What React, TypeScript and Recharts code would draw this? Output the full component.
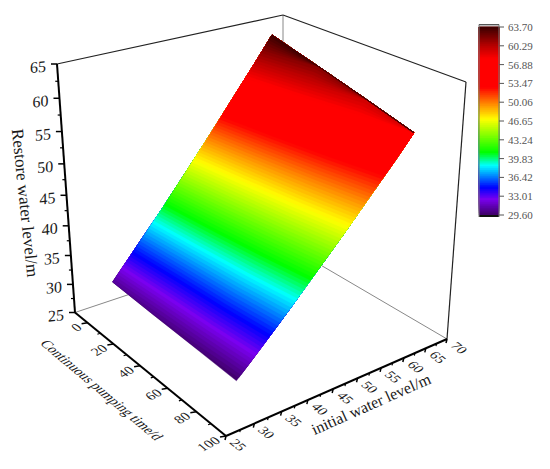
import React from "react";
import { ScatterChart, Scatter, XAxis, YAxis } from "recharts";

const WIDTH = 550;
const HEIGHT = 469;

// ---------- data ----------
const timeSamples = [0, 30, 60, 88];
const levelSamples = [30, 35, 40, 45, 50, 55, 60, 64];
const restoreAtTime0 = [30.6, 35.5, 40.3, 45.2, 50.1, 55.0, 59.8, 63.7];
const restoreAtTime30 = [30.2, 34.8, 39.5, 44.1, 48.7, 53.4, 58.0, 61.7];
const restoreAtTime60 = [29.9, 34.3, 38.7, 43.0, 47.4, 51.8, 56.2, 59.7];
const restoreAtTime88 = [29.6, 33.7, 37.8, 42.0, 46.1, 50.3, 54.4, 57.8];
const restoreRows = [restoreAtTime0, restoreAtTime30, restoreAtTime60, restoreAtTime88];

const timeTicks = [0, 20, 40, 60, 80, 100];
const timeMinorTicks = [10, 30, 50, 70, 90];
const levelTicks = [25, 30, 35, 40, 45, 50, 55, 60, 65, 70];
const levelMinorTicks = [27.5, 32.5, 37.5, 42.5, 47.5, 52.5, 57.5, 62.5, 67.5];
const restoreTicks = [25, 30, 35, 40, 45, 50, 55, 60, 65];
const restoreMinorTicks = [27.5, 32.5, 37.5, 42.5, 47.5, 52.5, 57.5, 62.5];
const colorbarLabels = ["63.70", "60.29", "56.88", "53.47", "50.06", "46.65", "43.24", "39.83", "36.42", "33.01", "29.60"];
const colorStopValues = [29.6, 32.5, 34.6, 38.6, 41, 47, 50, 52.8, 58, 60.3, 63.7];
const colorStopHex = ["#3f0066", "#7a00f0", "#0000ff", "#00ffff", "#00ff00", "#ffff00", "#ff8000", "#ff0000", "#ff0000", "#b80000", "#3c0000"];

// ---------- 3D box ----------
const T_RANGE = [-10, 100];
const L_RANGE = [25, 70];
const Z_RANGE = [25, 65];
const WARP = { t: 1.1, l: 0.85, z: 1.12 };
const C: Record<string, number[]> = {
  "000": [75, 312.5],
  "100": [226, 436],
  "010": [283, 243],
  "110": [447, 339],
  "001": [57, 64],
  "101": [228, 155],
  "011": [283, 15],
  "111": [466, 82],
};
type Pt = { x: number; y: number };

const warp = (s: number, r: number) => s / (s + r * (1 - s));
function project(t: number, l: number, z: number): Pt {
  const a = warp((t - T_RANGE[0]) / (T_RANGE[1] - T_RANGE[0]), WARP.t);
  const b = warp((l - L_RANGE[0]) / (L_RANGE[1] - L_RANGE[0]), WARP.l);
  const c = warp((z - Z_RANGE[0]) / (Z_RANGE[1] - Z_RANGE[0]), WARP.z);
  const out = [0, 0];
  for (const i of [0, 1]) for (const j of [0, 1]) for (const k of [0, 1]) {
    const w = (i ? a : 1 - a) * (j ? b : 1 - b) * (k ? c : 1 - c);
    const p = C[`${i}${j}${k}`];
    out[0] += w * p[0];
    out[1] += w * p[1];
  }
  return { x: out[0], y: out[1] };
}

// ---------- colours ----------
function hexToRgb(h: string) {
  return [1, 3, 5].map((i) => parseInt(h.slice(i, i + 2), 16));
}
function colorFor(v: number) {
  let i = 0;
  while (i < colorStopValues.length - 2 && v > colorStopValues[i + 1]) i++;
  const f = Math.min(1, Math.max(0, (v - colorStopValues[i]) / (colorStopValues[i + 1] - colorStopValues[i])));
  const a = hexToRgb(colorStopHex[i]);
  const b = hexToRgb(colorStopHex[i + 1]);
  return `rgb(${a.map((x, n) => Math.round(x + (b[n] - x) * f)).join(",")})`;
}

const LEVEL_COUNT = 100;
const MIN_V = 29.6;
const MAX_V = 63.7;
const contourLevels = Array.from({ length: LEVEL_COUNT }, (_, i) => MIN_V + ((MAX_V - MIN_V) * i) / LEVEL_COUNT);

// region of the surface whose value is above a level
function crossing(row: number[], v: number) {
  if (v <= row[0]) return levelSamples[0];
  for (let i = 0; i < row.length - 1; i++) {
    if (v <= row[i + 1]) {
      const f = (v - row[i]) / (row[i + 1] - row[i]);
      return levelSamples[i] + f * (levelSamples[i + 1] - levelSamples[i]);
    }
  }
  return levelSamples[levelSamples.length - 1];
}
function zAt(row: number[], l: number) {
  for (let i = 0; i < row.length - 1; i++) {
    if (l <= levelSamples[i + 1]) {
      const f = (l - levelSamples[i]) / (levelSamples[i + 1] - levelSamples[i]);
      return row[i] + f * (row[i + 1] - row[i]);
    }
  }
  return row[row.length - 1];
}
function contourPolygon(v: number): Pt[] {
  const last = timeSamples.length - 1;
  const lastL = levelSamples.length - 1;
  const iso = timeSamples.map((t, n) => {
    const l = crossing(restoreRows[n], v);
    return project(t, l, zAt(restoreRows[n], l));
  });
  const up: Pt[] = [];
  levelSamples.forEach((l, j) => {
    if (l > crossing(restoreRows[last], v)) up.push(project(timeSamples[last], l, restoreRows[last][j]));
  });
  const back: Pt[] = [];
  for (let n = last - 1; n >= 0; n--) back.push(project(timeSamples[n], levelSamples[lastL], restoreRows[n][lastL]));
  const down: Pt[] = [];
  for (let j = lastL - 1; j >= 0; j--) {
    if (levelSamples[j] > crossing(restoreRows[0], v)) down.push(project(timeSamples[0], levelSamples[j], restoreRows[0][j]));
  }
  return [...iso, ...up, ...back, ...down];
}

// ---------- colour bar ----------
const BAR = { left: 479, right: 499, top: 24.5, bottom: 217, topValueY: 27, bottomValueY: 215 };
const barY = (v: number) => BAR.bottomValueY - ((v - MIN_V) / (MAX_V - MIN_V)) * (BAR.bottomValueY - BAR.topValueY);
const barRegion = (v: number): Pt[] => [
  { x: BAR.left, y: barY(v) },
  { x: BAR.right, y: barY(v) },
  { x: BAR.right, y: BAR.topValueY },
  { x: BAR.left, y: BAR.topValueY },
];

// ---------- shapes ----------
const noPoint = () => <g />;
const fillPolygon = (fill: string) => (p: any) => (
  <polygon points={p.points.map((q: any) => `${q.x},${q.y}`).join(" ")} fill={fill} stroke={fill} strokeWidth={0.4} />
);
const tickMark = (dx: number, dy: number, width: number, stroke = "#000") => (p: any) => (
  <line x1={p.cx} y1={p.cy} x2={p.cx + dx} y2={p.cy + dy} stroke={stroke} strokeWidth={width} />
);
const SERIF = "'Liberation Serif', serif";
const labelShape = (opts: { dx: number; dy: number; rotate: number; skew: number; size: number; sy?: number; color?: string; anchor?: string }) => (p: any) => (
  <text
    transform={`translate(${p.cx + opts.dx},${p.cy + opts.dy}) rotate(${opts.rotate}) skewX(${opts.skew}) scale(1,${opts.sy ?? 1})`}
    textAnchor={(opts.anchor ?? "middle") as any}
    dominantBaseline="central"
    fontFamily={SERIF}
    fontSize={opts.size}
    fill={opts.color ?? "#1a1a1a"}
  >
    {p.payload.label}
  </text>
);
const line = (a: Pt, b: Pt) => [a, b];
const edge = (key: string, pts: Pt[], stroke: string, width: number) => (
  <Scatter key={key} data={pts} isAnimationActive={false} shape={noPoint} legendType="none" line={{ stroke, strokeWidth: width }} fill={stroke} />
);

const [tLo, tHi] = T_RANGE;
const [lLo, lHi] = L_RANGE;
const [zLo, zHi] = Z_RANGE;

const zTickPts = restoreTicks.map((v) => ({ ...project(tLo, lLo, v), label: String(v) }));
const zMinorPts = restoreMinorTicks.map((v) => project(tLo, lLo, v));
const tTickPts = timeTicks.map((v) => ({ ...project(v, lLo, zLo), label: String(v) }));
const tMinorPts = timeMinorTicks.map((v) => project(v, lLo, zLo));
const lTickPts = levelTicks.map((v) => ({ ...project(tHi, v, zLo), label: String(v) }));
const lMinorPts = levelMinorTicks.map((v) => project(tHi, v, zLo));
const barTickPts = colorbarLabels.map((s) => ({ x: BAR.right, y: barY(parseFloat(s)), label: s }));

const titleRestore = [{ x: 25, y: 203, label: "Restore water level/m" }];
const titleTime = [{ x: 102, y: 390, label: "Continuous pumping time/d" }];
const titleLevel = [{ x: 371, y: 404, label: "initial water level/m" }];

export default function App() {
  return (
    <div style={{ position: "absolute", left: 0, top: 0, width: WIDTH, height: HEIGHT }}>
      <ScatterChart width={WIDTH} height={HEIGHT} margin={{ top: 0, right: 0, bottom: 0, left: 0 }}>
        <XAxis type="number" dataKey="x" domain={[0, WIDTH]} hide />
        <YAxis type="number" dataKey="y" domain={[0, HEIGHT]} reversed hide />

        {edge("back-v", line(project(tLo, lHi, zLo), project(tLo, lHi, zHi)), "#888", 1)}
        {edge("back-a", line(project(tLo, lLo, zLo), project(tLo, lHi, zLo)), "#888", 1)}
        {edge("back-b", line(project(tLo, lHi, zLo), project(tHi, lHi, zLo)), "#888", 1)}
        {edge("top-a", line(project(tLo, lLo, zHi), project(tLo, lHi, zHi)), "#222", 1.2)}
        {edge("top-b", line(project(tLo, lHi, zHi), project(tHi, lHi, zHi)), "#222", 1.2)}
        {edge("right-v", line(project(tHi, lHi, zLo), project(tHi, lHi, zHi)), "#222", 1.2)}

        {contourLevels.map((v) => (
          <Scatter
            key={`c${v}`}
            data={contourPolygon(v)}
            isAnimationActive={false}
            shape={noPoint}
            legendType="none"
            line={fillPolygon(colorFor(v + 0.17)) as any}
          />
        ))}

        {edge("z-axis", line(project(tLo, lLo, zLo), project(tLo, lLo, zHi)), "#000", 2)}
        {edge("t-axis", line(project(tLo, lLo, zLo), project(tHi, lLo, zLo)), "#000", 2)}
        {edge("l-axis", line(project(tHi, lLo, zLo), project(tHi, lHi, zLo)), "#000", 2)}

        <Scatter data={zTickPts} isAnimationActive={false} legendType="none" shape={tickMark(-6, 0, 1.5) as any} />
        <Scatter data={zMinorPts} isAnimationActive={false} legendType="none" shape={tickMark(-3, 0, 1.2) as any} />
        <Scatter data={tTickPts} isAnimationActive={false} legendType="none" shape={tickMark(-6, 1, 1.5) as any} />
        <Scatter data={tMinorPts} isAnimationActive={false} legendType="none" shape={tickMark(-3, 1, 1.2) as any} />
        <Scatter data={lTickPts} isAnimationActive={false} legendType="none" shape={tickMark(-1, 4, 1.5) as any} />
        <Scatter data={lMinorPts} isAnimationActive={false} legendType="none" shape={tickMark(-0.5, 2.5, 1.2) as any} />

        <Scatter data={zTickPts} isAnimationActive={false} legendType="none" shape={labelShape({ dx: -19, dy: 3, rotate: -6, skew: -6, size: 16 }) as any} />
        <Scatter data={tTickPts} isAnimationActive={false} legendType="none" shape={labelShape({ dx: -8, dy: 3, rotate: -28, skew: 22, size: 14, sy: 0.9, anchor: "end" }) as any} />
        <Scatter data={lTickPts} isAnimationActive={false} legendType="none" shape={labelShape({ dx: 12, dy: 9, rotate: 38, skew: -20, size: 14, sy: 0.9 }) as any} />

        <Scatter data={titleRestore} isAnimationActive={false} legendType="none" shape={labelShape({ dx: 0, dy: 0, rotate: 84, skew: 0, size: 17 }) as any} />
        <Scatter data={titleTime} isAnimationActive={false} legendType="none" shape={labelShape({ dx: 0, dy: 0, rotate: 40, skew: -25, size: 13.5 }) as any} />
        <Scatter data={titleLevel} isAnimationActive={false} legendType="none" shape={labelShape({ dx: 0, dy: 0, rotate: -24, skew: 0, size: 16 }) as any} />

        {contourLevels.map((v) => (
          <Scatter
            key={`b${v}`}
            data={barRegion(v)}
            isAnimationActive={false}
            shape={noPoint}
            legendType="none"
            line={fillPolygon(colorFor(v + 0.17)) as any}
          />
        ))}
        {edge("bar-cap", line({ x: BAR.left, y: BAR.top + 1 }, { x: BAR.right, y: BAR.top + 1 }), "#bdbdbd", 2)}
        {edge("bar-base", line({ x: BAR.left, y: BAR.bottom - 1 }, { x: BAR.right, y: BAR.bottom - 1 }), "#111", 2)}
        {edge("bar-left", line({ x: BAR.left, y: BAR.top }, { x: BAR.left, y: BAR.bottom }), "#777", 1)}
        {edge("bar-right", line({ x: BAR.right, y: BAR.top }, { x: BAR.right, y: BAR.bottom }), "#777", 1)}
        {edge("bar-topline", line({ x: BAR.left, y: BAR.top }, { x: BAR.right, y: BAR.top }), "#555", 1)}
        <Scatter data={barTickPts} isAnimationActive={false} legendType="none" shape={tickMark(5, 0, 1, "#555") as any} />
        <Scatter data={barTickPts} isAnimationActive={false} legendType="none" shape={labelShape({ dx: 9, dy: 0, rotate: 0, skew: 0, size: 11, anchor: "start", color: "#555" }) as any} />
      </ScatterChart>
    </div>
  );
}
